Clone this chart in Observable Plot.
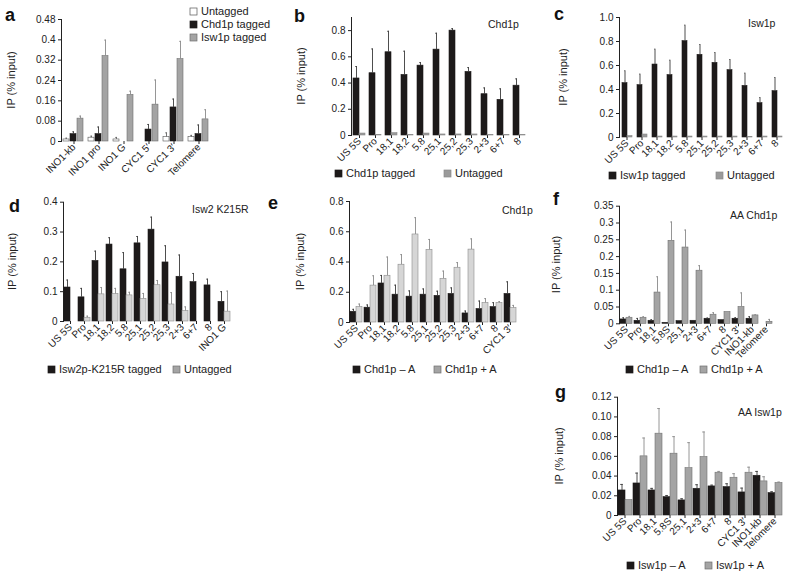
<!DOCTYPE html>
<html><head><meta charset="utf-8">
<script src="https://cdn.jsdelivr.net/npm/d3@7"></script>
<script src="https://cdn.jsdelivr.net/npm/@observablehq/plot@0.6"></script>
<style>
body{margin:0;background:#fff;}
#root{position:relative;width:800px;height:579px;overflow:hidden;background:#fff;font-family:"Liberation Sans",Arial,sans-serif;}
#root svg.panel{position:absolute;}
</style></head><body><div id="root"></div>
<script>
// ---------- DATA ----------
const yLabel = "IP (% input)";
// Panel a
const aCats = ["INO1-kb","INO1 pro","INO1 G","CYC1 5′","CYC1 3′","Telomere"];
const aUntagged   = [0.008,0.015,0.008,0,0.017,0.017];
const aUntaggedHi = [0.013,0.021,0.016,null,0.034,0.024];
const aChd1       = [0.029,0.029,0,0.047,0.134,0.029];
const aChd1Hi     = [0.038,0.057,null,0.067,0.167,0.065];
const aIsw1       = [0.09,0.336,0.183,0.145,0.324,0.087];
const aIsw1Hi     = [0.1,0.399,0.198,0.242,0.394,0.125];
const aTicks = [0,0.08,0.16,0.24,0.32,0.4,0.48];
const aTickLabels = ["0","0.08","0.16","0.24","0.32","0.4","0.48"];
// Panels b, c
const rdnaCats = ["US 5S","Pro","18,1","18,2","5.8","25,1","25,2","25,3","2+3","6+7","8"];
const bChd1   = [0.435,0.475,0.635,0.462,0.533,0.655,0.8,0.485,0.315,0.272,0.38];
const bChd1Hi = [0.526,0.66,0.795,0.643,0.556,0.78,0.815,0.518,0.363,0.356,0.432];
const bUntag  = [0.015,0.005,0.018,0.005,0.015,0.008,0.008,0.008,0.003,0.003,0.004];
const bTicks = [0,0.2,0.4,0.6,0.8];
const bTickLabels = ["0","0.2","0.4","0.6","0.8"];
const cIsw1   = [0.453,0.436,0.608,0.52,0.803,0.689,0.622,0.561,0.43,0.286,0.386];
const cIsw1Hi = [0.556,0.528,0.736,0.644,0.936,0.775,0.708,0.65,0.536,0.333,0.5];
const cUntag  = [0.012,0.025,0.008,0.008,0.008,0.008,0.008,0.008,0.004,0.008,0.008];
const cTicks = [0,0.2,0.4,0.6,0.8,1.0];
const cTickLabels = ["0","0.2","0.4","0.6","0.8","1.0"];
// Panel d
const dCats = ["US 5S","Pro","18,1","18,2","5.8","25,1","25,2","25,3","2+3","6+7","8","INO1 G"];
const dIsw2   = [0.114,0.081,0.203,0.258,0.175,0.262,0.308,0.198,0.15,0.132,0.121,0.066];
const dIsw2Hi = [0.139,0.111,0.236,0.281,0.231,0.285,0.35,0.254,0.223,0.161,0.142,0.1];
const dUntag   = [0,0.0125,0.091,0.092,0.0875,0.076,0.1216,0.057,0.035,0,0,0.033];
const dUntagHi = [null,0.018,0.114,0.111,0.098,0.094,0.1375,0.097,0.049,null,null,0.102];
const dTicks = [0,0.1,0.2,0.3,0.4];
const dTickLabels = ["0","0.1","0.2","0.3","0.4"];
// Panel e
const eCats = ["US 5S","Pro","18,1","18,2","5.8","25,1","25,2","25,3","2+3","6+7","8","CYC1 3′"];
const eMinus   = [0.071,0.098,0.258,0.184,0.171,0.184,0.176,0.189,0.06,0.089,0.102,0.189];
const eMinusHi = [0.087,0.116,0.311,0.247,0.209,0.222,0.207,0.229,0.076,0.142,0.131,0.269];
const ePlus    = [0.102,0.244,0.309,0.382,0.582,0.48,0.289,0.362,0.482,0.129,0.129,0.096];
const ePlusHi  = [0.122,0.309,0.433,0.449,0.693,0.549,0.34,0.396,0.553,0.158,0.138,0.113];
const eTicks = [0,0.2,0.4,0.6,0.8];
const eTickLabels = ["0","0.2","0.4","0.6","0.8"];
// Panels f, g
const aaCats = ["US 5S","Pro","18,1","5.8S","25,1","2+3","6+7","8","CYC1 3′","INO1-kb","Telomere"];
const fMinus   = [0.013,0.009,0.009,0.003,0.008,0.009,0.015,0.011,0.015,0.015,0];
const fMinusHi = [0.018,0.016,0.012,null,null,null,0.017,null,0.018,0.021,null];
const fPlus    = [0.018,0.018,0.093,0.247,0.227,0.158,0.027,0.035,0.05,0.025,0.006];
const fPlusHi  = [0.022,0.021,0.14,0.303,0.279,0.173,0.033,null,0.092,0.027,0.013];
const fTicks = [0,0.05,0.1,0.15,0.2,0.25,0.3,0.35];
const fTickLabels = ["0","0.05","0.1","0.15","0.2","0.25","0.3","0.35"];
const gMinus   = [0.0254,0.0325,0.0254,0.0186,0.0153,0.0271,0.0295,0.0288,0.0234,0.0403,0.0227];
const gMinusHi = [0.0315,0.043,0.0275,0.0203,0.017,0.0312,0.0308,0.0322,0.0278,0.0447,0.0241];
const gPlus    = [0.0156,0.06,0.083,0.0627,0.048,0.0593,0.0434,0.0383,0.0434,0.0346,0.0329];
const gPlusHi  = [null,0.0786,0.1085,0.08,0.0739,0.0847,0.0447,0.0424,0.049,0.0393,0.0339];
const gTicks = [0,0.02,0.04,0.06,0.08,0.10,0.12];
const gTickLabels = ["0","0.02","0.04","0.06","0.08","0.10","0.12"];

// ---------- STYLE ----------
const BLACK = {fill:"#1d1a1a", stroke:"#1d1a1a", err:"#3a3a3a"};
const GREY  = {fill:"#a4a4a4", stroke:"#707070", err:"#8a8a8a"};
const LIGHT = {fill:"#d6d6d6", stroke:"#8c8c8c", err:"#8a8a8a"};
const WHITE = {fill:"#ffffff", stroke:"#555555", err:"#666666"};
const UNTAG = {fill:"#9a9a9a", stroke:"#8a8a8a", err:"#8a8a8a"};
const FONT = "'Liberation Sans', Arial, Helvetica, sans-serif";

const root = document.getElementById("root");
const yLabelPos = [];

function panel(cfg) {
  const rows = [];
  cfg.cats.forEach((c, i) => cfg.series.forEach(s => rows.push({cat: c, s: s.name, v: s.values[i], hi: s.hi ? s.hi[i] : null})));
  const marks = [];
  cfg.series.forEach(s => {
    const sr = rows.filter(r => r.s === s.name);
    marks.push(Plot.barY(sr, {fx: "cat", x: "s", y: "v", fill: s.st.fill, stroke: s.st.stroke, strokeWidth: 0.6}));
  });
  cfg.series.forEach(s => {
    const er = rows.filter(r => r.s === s.name && r.hi != null);
    marks.push(Plot.ruleX(er, {fx: "cat", x: "s", y1: "v", y2: "hi", stroke: s.st.err, strokeWidth: 0.9}));
    marks.push(Plot.tickY(er, {fx: "cat", x: "s", y: "hi", stroke: s.st.err, strokeWidth: 0.9, insetLeft: 2.2, insetRight: 2.2}));
  });
  const tl = new Map(cfg.ticks.map((t, i) => [t, cfg.tickLabels[i]]));
  const svg = Plot.plot({
    width: cfg.w, height: cfg.h,
    marginLeft: cfg.ml, marginRight: cfg.mr, marginTop: cfg.mt, marginBottom: cfg.mb,
    style: {background: "transparent", overflow: "visible", fontFamily: FONT, fontSize: "10px", color: "#222"},
    fx: {domain: cfg.cats, paddingInner: 0, paddingOuter: cfg.fxPad, align: cfg.fxAlign, label: null,
         tickRotate: -45, tickSize: 3, tickPadding: 1, line: true},
    x: {domain: cfg.series.map(s => s.name), axis: null, paddingInner: cfg.xIn, paddingOuter: cfg.xOut},
    y: {domain: cfg.yDomain, ticks: cfg.ticks, tickFormat: d => tl.get(d) ?? String(d), tickSize: 3, tickPadding: 3,
        label: null, line: true},
    marks
  });
  svg.classList.add("panel");
  svg.style.left = cfg.left + "px";
  svg.style.top = cfg.top + "px";
  root.appendChild(svg);
  // y-axis title position: left of the frame, vertically centred on it
  yLabelPos.push([cfg.left + cfg.ml - cfg.lo, cfg.top + cfg.mt + (cfg.h - cfg.mt - cfg.mb) / 2]);
}

panel({left: 0, top: 0, w: 226, h: 190, ml: 48, mr: 4, mt: 19, mb: 49, lo: 33,
  cats: aCats, yDomain: [0, 0.48], ticks: aTicks, tickLabels: aTickLabels,
  fxPad: 0.43, fxAlign: 0.54, xIn: 0.1, xOut: 0.25,
  series: [{name: "Untagged", values: aUntagged, hi: aUntaggedHi, st: WHITE},
           {name: "Chd1p tagged", values: aChd1, hi: aChd1Hi, st: BLACK},
           {name: "Isw1p tagged", values: aIsw1, hi: aIsw1Hi, st: GREY}]});

panel({left: 260, top: 0, w: 270, h: 190, ml: 73, mr: 3, mt: 17, mb: 55, lo: 28,
  cats: rdnaCats, yDomain: [0, 0.9], ticks: bTicks, tickLabels: bTickLabels,
  fxPad: 0.38, fxAlign: 1, xIn: 0, xOut: 0.33,
  series: [{name: "Chd1p tagged", values: bChd1, hi: bChd1Hi, st: BLACK},
           {name: "Untagged", values: bUntag, hi: null, st: UNTAG}]});

panel({left: 520, top: 0, w: 280, h: 190, ml: 79, mr: 8, mt: 17, mb: 53, lo: 32,
  cats: rdnaCats, yDomain: [0, 1], ticks: cTicks, tickLabels: cTickLabels,
  fxPad: 0.57, fxAlign: 0.72, xIn: 0, xOut: 0.3,
  series: [{name: "Isw1p tagged", values: cIsw1, hi: cIsw1Hi, st: BLACK},
           {name: "Untagged", values: cUntag, hi: null, st: UNTAG}]});

panel({left: 0, top: 190, w: 260, h: 190, ml: 49, mr: 17, mt: 11.7, mb: 59, lo: 33,
  cats: dCats, yDomain: [0, 0.4], ticks: dTicks, tickLabels: dTickLabels,
  fxPad: 0.8, fxAlign: 0.55, xIn: 0, xOut: 0.03,
  series: [{name: "Isw2p-K215R tagged", values: dIsw2, hi: dIsw2Hi, st: BLACK},
           {name: "Untagged", values: dUntag, hi: dUntagHi, st: LIGHT}]});

panel({left: 260, top: 190, w: 270, h: 190, ml: 72, mr: 8, mt: 11, mb: 58, lo: 28,
  cats: eCats, yDomain: [0, 0.8], ticks: eTicks, tickLabels: eTickLabels,
  fxPad: 0.7, fxAlign: 0.76, xIn: 0, xOut: 0.04,
  series: [{name: "Chd1p – A", values: eMinus, hi: eMinusHi, st: BLACK},
           {name: "Chd1p + A", values: ePlus, hi: ePlusHi, st: LIGHT}]});

panel({left: 520, top: 190, w: 280, h: 190, ml: 78, mr: 15, mt: 15.7, mb: 56.7, lo: 38,
  cats: aaCats, yDomain: [0, 0.35], ticks: fTicks, tickLabels: fTickLabels,
  fxPad: 0.81, fxAlign: 0.63, xIn: 0, xOut: 0.06,
  series: [{name: "Chd1p – A", values: fMinus, hi: fMinusHi, st: BLACK},
           {name: "Chd1p + A", values: fPlus, hi: fPlusHi, st: GREY}]});

panel({left: 520, top: 380, w: 280, h: 199, ml: 77, mr: 10, mt: 16.7, mb: 64, lo: 34,
  cats: aaCats, yDomain: [0, 0.12], ticks: gTicks, tickLabels: gTickLabels,
  fxPad: 0.93, fxAlign: 0.7, xIn: 0, xOut: 0.05,
  series: [{name: "Isw1p – A", values: gMinus, hi: gMinusHi, st: BLACK},
           {name: "Isw1p + A", values: gPlus, hi: gPlusHi, st: GREY}]});

// ---------- ANNOTATIONS (letters, titles, legends, y titles) ----------
const letters = ["a","b","c","d","e","f","g"];
const letterPos = [[5,21],[294,22],[554,20],[9,212],[268,209],[553,205],[555,398]];
const titles = ["Chd1p","Isw1p","Isw2 K215R","Chd1p","AA Chd1p","AA Isw1p"];
const titlePos = [[488,28],[748,27],[192,213],[502,214],[730,219],[738,416]];
const legendItems = [
  ["Untagged", WHITE, 190, 15], ["Chd1p tagged", BLACK, 190, 28], ["Isw1p tagged", GREY, 190, 41],
  ["Chd1p tagged", BLACK, 335, 177], ["Untagged", UNTAG, 444, 177],
  ["Isw1p tagged", BLACK, 609, 179], ["Untagged", UNTAG, 716, 179],
  ["Isw2p-K215R tagged", BLACK, 48, 373], ["Untagged", GREY, 173, 373],
  ["Chd1p – A", BLACK, 353, 373], ["Chd1p + A", GREY, 434, 373],
  ["Chd1p – A", BLACK, 626, 373], ["Chd1p + A", GREY, 700, 373],
  ["Isw1p – A", BLACK, 627, 569], ["Isw1p + A", GREY, 705, 569]
];
const ov = d3.select(root).append("svg").attr("class", "panel")
  .attr("width", 800).attr("height", 579).style("left", "0px").style("top", "0px")
  .style("font-family", FONT).style("pointer-events", "none");
ov.selectAll("text.ylab").data(yLabelPos).join("text").attr("class", "ylab")
  .attr("transform", d => `translate(${d[0]},${d[1]}) rotate(-90)`)
  .attr("text-anchor", "middle").attr("font-size", 11).attr("fill", "#222").text(yLabel);
ov.selectAll("text.letter").data(letters).join("text").attr("class", "letter")
  .attr("x", (d, i) => letterPos[i][0]).attr("y", (d, i) => letterPos[i][1])
  .attr("font-size", 18).attr("font-weight", "bold").attr("fill", "#111").text(d => d);
ov.selectAll("text.title").data(titles).join("text").attr("class", "title")
  .attr("x", (d, i) => titlePos[i][0]).attr("y", (d, i) => titlePos[i][1])
  .attr("font-size", 10.5).attr("fill", "#222").text(d => d);
const lg = ov.selectAll("g.lg").data(legendItems).join("g").attr("class", "lg")
  .attr("transform", d => `translate(${d[2]},${d[3]})`);
lg.append("rect").attr("x", 0).attr("y", -7).attr("width", 7).attr("height", 7)
  .attr("fill", d => d[1].fill).attr("stroke", d => d[1].stroke).attr("stroke-width", 0.7);
lg.append("text").attr("x", 11).attr("y", 0).attr("font-size", 11).attr("fill", "#222").text(d => d[0]);
</script></body></html>
